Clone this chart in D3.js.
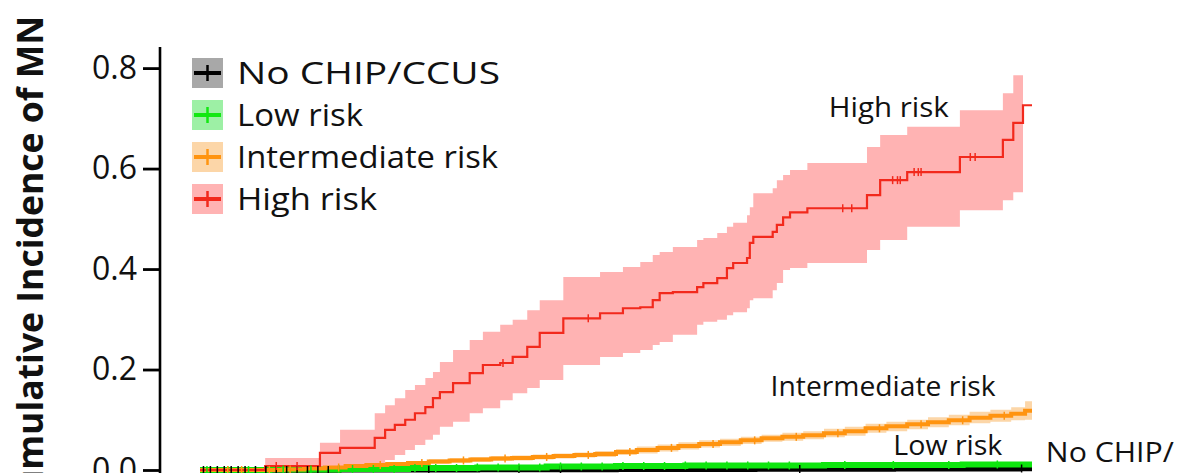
<!DOCTYPE html>
<html><head><meta charset="utf-8">
<script src="https://cdn.jsdelivr.net/npm/d3@7"></script>
<style>body{margin:0;background:#fff;overflow:hidden;} text{font-family:"Open Sans",sans-serif;fill:#111;}</style>
</head><body><svg id="c" width="1184" height="473"></svg>
<script>
// ---------- data (years of follow-up, cumulative incidence) ----------
const yTicks = [0.0, 0.2, 0.4, 0.6, 0.8];
const seriesNames = ["No CHIP/CCUS", "Low risk", "Intermediate risk", "High risk"];
const endTime = 12.0;

const noTime = [0, 2, 4, 6, 8, 10, 11.8];
const noEst  = [0, 0.0005, 0.001, 0.0015, 0.002, 0.0025, 0.003];
const noLow  = [0, 0, 0, 0.001, 0.001, 0.002, 0.002];
const noUp   = [0, 0.001, 0.002, 0.002, 0.003, 0.003, 0.004];
const noCensor = [0.05,0.15,0.25,0.35,0.45,0.55,0.65,0.8,0.95,1.1,1.25,1.4,1.55,1.7,1.85,3.3,4.6,5.2,8.65,11.85];

const lowTime = [0, 1.0, 2.0, 3.0, 4.0, 5.0, 6.0, 7.0, 8.0, 9.0, 10.0, 11.0, 11.8];
const lowEst  = [0, 0.001, 0.002, 0.004, 0.005, 0.007, 0.008, 0.009, 0.009, 0.010, 0.010, 0.011, 0.011];
const lowLow  = [0, 0, 0.001, 0.002, 0.003, 0.004, 0.005, 0.006, 0.006, 0.007, 0.007, 0.008, 0.008];
const lowUp   = [0, 0.002, 0.003, 0.006, 0.007, 0.009, 0.011, 0.012, 0.012, 0.013, 0.013, 0.014, 0.014];
const lowCensor = [0.1,0.4,0.7,1.2,1.6,2.0,2.2,2.5,2.8,3.1,3.4,3.7,4.0,4.3,4.6,4.9,5.2,5.5,5.8,6.1,6.4,6.7,7.0,7.3,7.6,7.9,8.2,8.5,9.3,10.0,10.8,11.5];

const interTime = [0,1.2,1.5,1.8,2.1,2.4,2.7,3.0,3.3,3.6,3.9,4.2,4.5,4.8,5.1,5.4,5.7,6.0,6.3,6.6,6.9,7.2,7.5,7.8,8.1,8.4,8.7,9.0,9.3,9.6,9.9,10.2,10.5,10.8,11.1,11.4,11.7,11.9];
const interEst  = [0,0.001,0.003,0.005,0.008,0.010,0.012,0.014,0.017,0.019,0.021,0.023,0.024,0.026,0.028,0.030,0.032,0.036,0.040,0.044,0.048,0.052,0.055,0.059,0.063,0.066,0.069,0.073,0.077,0.083,0.087,0.091,0.095,0.099,0.104,0.108,0.112,0.118];
const interLow  = [0,0,0.001,0.003,0.005,0.007,0.009,0.010,0.012,0.014,0.016,0.018,0.019,0.021,0.023,0.025,0.026,0.030,0.033,0.037,0.041,0.045,0.048,0.052,0.056,0.058,0.061,0.065,0.068,0.074,0.077,0.081,0.085,0.089,0.093,0.096,0.099,0.100];
const interUp   = [0,0.003,0.006,0.008,0.011,0.013,0.015,0.018,0.022,0.024,0.026,0.028,0.029,0.031,0.033,0.035,0.038,0.042,0.047,0.051,0.055,0.059,0.062,0.066,0.070,0.074,0.077,0.082,0.086,0.092,0.096,0.100,0.105,0.110,0.116,0.120,0.125,0.137];
const interCensor = [0.4,0.6,1.0,1.3,2.0,2.6,3.2,3.8,4.4,5.0,5.6,6.2,6.8,7.4,8.0,8.6,9.2,9.8,10.4,11.0,11.6];

const highTime = [0,0.94,1.73,2.02,2.52,2.67,2.81,2.96,3.10,3.25,3.36,3.46,3.65,3.89,4.08,4.33,4.51,4.72,4.90,5.24,5.77,6.10,6.35,6.53,6.63,6.82,7.17,7.26,7.46,7.60,7.69,7.89,7.93,7.98,8.26,8.32,8.41,8.51,8.76,9.62,9.81,10.20,10.96,11.58,11.73,11.87];
const highEst  = [0,0.008,0.034,0.044,0.064,0.080,0.090,0.100,0.113,0.125,0.143,0.155,0.173,0.193,0.209,0.213,0.225,0.245,0.273,0.302,0.312,0.322,0.324,0.338,0.352,0.354,0.364,0.372,0.382,0.402,0.412,0.422,0.452,0.464,0.474,0.488,0.503,0.513,0.521,0.547,0.577,0.593,0.623,0.657,0.691,0.726];
const highLow  = [0,0,0,0,0.006,0.020,0.030,0.040,0.050,0.060,0.070,0.086,0.096,0.113,0.123,0.139,0.153,0.163,0.179,0.209,0.225,0.233,0.239,0.249,0.255,0.269,0.289,0.295,0.299,0.308,0.314,0.322,0.338,0.342,0.358,0.372,0.398,0.402,0.412,0.438,0.458,0.484,0.517,0.537,0.553,0.553];
const highUp   = [0,0.024,0.054,0.080,0.113,0.129,0.143,0.159,0.169,0.183,0.195,0.215,0.239,0.259,0.275,0.289,0.299,0.318,0.338,0.384,0.394,0.404,0.414,0.428,0.434,0.444,0.458,0.462,0.472,0.484,0.492,0.507,0.523,0.551,0.561,0.577,0.587,0.597,0.611,0.643,0.667,0.683,0.716,0.750,0.786,0.786];
const highCensor = [1.1,1.4,4.37,5.6,9.27,9.40,9.99,10.06,10.10,10.30,10.36,10.40,11.11,11.18];

// ---------- build ----------
function build(t, e, lo, hi, cens, extendBand){
  const pts = t.map((d,i)=>({t:d, e:e[i], lo:lo[i], hi:hi[i]}));
  const line = pts.concat([{t:endTime, e:e[e.length-1]}]);
  const band = extendBand ? pts.concat([{t:endTime, lo:lo[lo.length-1], hi:hi[hi.length-1]}]) : pts;
  const censor = cens.map(c=>{ let i = d3.bisectRight(t, c)-1; return {t:c, e:e[Math.max(0,i)]}; });
  return {line, band, censor};
}
const series = [
  Object.assign(build(noTime,noEst,noLow,noUp,noCensor,true),   {name:seriesNames[0], color:"#000000", fill:"#a8a8a8", sw:5.5, legendLine:"#000", lw:263}),
  Object.assign(build(lowTime,lowEst,lowLow,lowUp,lowCensor,true),{name:seriesNames[1], color:"#0ee60e", fill:"#9df0a5", sw:6, legendLine:"#12e812", lw:126}),
  Object.assign(build(interTime,interEst,interLow,interUp,interCensor,true),{name:seriesNames[2], color:"#ff9410", fill:"#fcd6a8", sw:4, legendLine:"#ff9410", lw:261}),
  Object.assign(build(highTime,highEst,highLow,highUp,highCensor,false),{name:seriesNames[3], color:"#f2291c", fill:"#ffb3b3", sw:2.2, legendLine:"#f2291c", lw:140})
];

const svg = d3.select("#c");
const x = d3.scaleLinear().domain([0, endTime]).range([200, 1032]);
const y = d3.scaleLinear().domain([0, 0.84]).range([470, 48]);

const area = d3.area().curve(d3.curveStepAfter).x(d=>x(d.t)).y0(d=>y(d.lo)).y1(d=>y(d.hi));
const line = d3.line().curve(d3.curveStepAfter).x(d=>x(d.t)).y(d=>y(d.e));

const g = svg.append("g");
series.forEach(s=>{
  g.append("path").attr("d", area(s.band)).attr("fill", s.fill).attr("stroke","none");
});
series.forEach(s=>{
  g.append("path").attr("d", line(s.line)).attr("fill","none").attr("stroke", s.color).attr("stroke-width", s.sw);
});
series.forEach(s=>{
  g.selectAll(null).data(s.censor).enter().append("line")
    .attr("x1", d=>x(d.t)).attr("x2", d=>x(d.t))
    .attr("y1", d=>y(d.e)-4).attr("y2", d=>y(d.e)+4)
    .attr("stroke", s.color).attr("stroke-width", 1.5);
});

// y axis
const ax = svg.append("g").attr("transform","translate(160,0)")
  .call(d3.axisLeft(y).tickValues(yTicks).tickFormat(d3.format(".1f")).tickSize(17).tickPadding(6).tickSizeOuter(0));
ax.select(".domain").remove();
ax.selectAll(".tick line").attr("stroke","#000").attr("stroke-width",2.8);
ax.selectAll(".tick text").style("font-size","32px").attr("fill","#111");
svg.append("line").attr("x1",160).attr("x2",160).attr("y1",47).attr("y2",473).attr("stroke","#000").attr("stroke-width",2.6);

// y axis title
svg.append("text").attr("transform","translate(43,16) rotate(-90)")
  .attr("text-anchor","end").style("font-size","35.5px").style("font-weight","bold")
  .text("Cumulative Incidence of MN");

// legend
const leg = svg.append("g");
const rowY = [73, 115, 157, 199];
series.forEach((s,i)=>{
  const cy = rowY[i];
  leg.append("rect").attr("x",192).attr("y",cy-15).attr("width",31).attr("height",30).attr("fill",s.fill);
  leg.append("line").attr("x1",194).attr("x2",221).attr("y1",cy).attr("y2",cy).attr("stroke",s.legendLine).attr("stroke-width",4);
  leg.append("line").attr("x1",207.5).attr("x2",207.5).attr("y1",cy-8).attr("y2",cy+8).attr("stroke",s.legendLine).attr("stroke-width",2.5);
  leg.append("text").attr("x",237).attr("y",cy+11).style("font-size","31px")
    .attr("textLength", s.lw).attr("lengthAdjust","spacingAndGlyphs").text(s.name);
});

// in-plot labels
const labels = [
  {text:"High risk", t:9.07, v:0.703, w:120},
  {text:"Intermediate risk", t:8.23, v:0.148, w:225},
  {text:"Low risk", t:10.0, v:0.03, w:109},
  {text:"No CHIP/", t:12.2, v:0.016, w:128},
  {text:"CCUS", t:12.2, v:-0.065, w:null}
];
svg.selectAll(null).data(labels).enter().append("text")
  .attr("x", d=>x(d.t)).attr("y", d=>y(d.v))
  .attr("textLength", d=>d.w).attr("lengthAdjust","spacingAndGlyphs")
  .style("font-size","28px").text(d=>d.text);
</script></body></html>
